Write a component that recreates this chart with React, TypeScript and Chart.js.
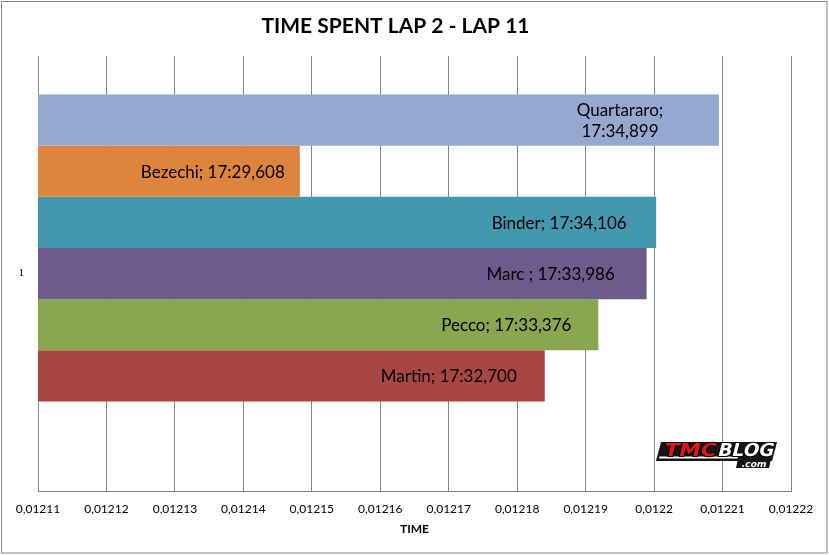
import React, { useEffect, useRef } from 'react';
import { Chart, registerables } from 'chart.js';

Chart.register(...registerables);

const TITLE = 'TIME SPENT LAP 2 - LAP 11';
const AXIS_TITLE = 'TIME';
const CATEGORIES = ['1'];
const RIDERS = ['Quartararo', 'Bezechi', 'Binder', 'Marc ', 'Pecco', 'Martin'];
const LAP_TIMES = ['17:34,899', '17:29,608', '17:34,106', '17:33,986', '17:33,376', '17:32,700'];
// time as fraction of a day (Excel time values)
const VALUES = [0.01220947917, 0.01214824074, 0.01220030093, 0.01219891204, 0.01219185185, 0.01218402778];
const X_MIN = 0.01211;
const X_MAX = 0.01222;
const X_STEP = 0.00001;

const COLORS = ['#95A9D0', '#DE843D', '#4397AE', '#6F5A8E', '#8AA64F', '#A84643'];
const LABEL_INSETS = [99, 87, 97, 96, 92, 96];
const GRID = '#868686';

const fmtTick = (v: number | string) => {
  const n = Number(v);
  let s = n.toFixed(5).replace(/0+$/, '').replace(/\.$/, '');
  return s.replace('.', ',');
};

const labelPlugin = {
  id: 'barLabels',
  afterDatasetsDraw(chart: any) {
    const ctx = chart.ctx;
    ctx.save();
    ctx.font = '17px Lato';
    ctx.fillStyle = '#000';
    ctx.textAlign = 'center';
    ctx.textBaseline = 'middle';
    RIDERS.forEach((r, i) => {
      const meta = chart.getDatasetMeta(i);
      const el = meta.data[0];
      if (!el) return;
      const full = `${r}; ${LAP_TIMES[i]}`;
      const lines = ctx.measureText(full).width > 160 ? [`${r};`, LAP_TIMES[i]] : [full];
      const cx = el.x - LABEL_INSETS[i];
      const lh = 21.6;
      lines.forEach((ln: string, k: number) => {
        ctx.fillText(ln, cx, el.y + 1 + (k - (lines.length - 1) / 2) * lh);
      });
    });
    ctx.restore();
  },
};

function fitText(ctx: CanvasRenderingContext2D, text: string, x: number, y: number, w: number, stroke: boolean) {
  const m = ctx.measureText(text).width;
  ctx.save();
  ctx.translate(x, y);
  ctx.scale(w / m, 1);
  if (stroke) ctx.strokeText(text, 0, 0);
  ctx.fillText(text, 0, 0);
  ctx.restore();
}

const decorPlugin = {
  id: 'decor',
  afterDraw(chart: any) {
    const ctx: CanvasRenderingContext2D = chart.ctx;
    ctx.save();
    // outer frame
    ctx.strokeStyle = GRID;
    ctx.lineWidth = 1;
    ctx.strokeRect(1.5, 1.5, 825.5, 551.5);

    // logo
    ctx.fillStyle = '#151515';
    ctx.beginPath();
    ctx.moveTo(661, 442);
    ctx.lineTo(777, 442);
    ctx.lineTo(772, 461);
    ctx.lineTo(656, 461);
    ctx.closePath();
    ctx.fill();
    ctx.beginPath();
    ctx.moveTo(738, 459);
    ctx.lineTo(771, 459);
    ctx.lineTo(769, 468);
    ctx.lineTo(736, 468);
    ctx.closePath();
    ctx.fill();
    ctx.fillStyle = '#fff';
    ctx.beginPath();
    ctx.moveTo(659.5, 456.5);
    ctx.lineTo(738, 456.5);
    ctx.lineTo(737.5, 458.5);
    ctx.lineTo(659, 458.5);
    ctx.closePath();
    ctx.fill();

    ctx.setTransform(1, 0, -0.25, 1, 0, 0);
    ctx.textBaseline = 'alphabetic';
    ctx.textAlign = 'left';
    ctx.lineWidth = 2;
    ctx.lineJoin = 'round';
    ctx.strokeStyle = '#000';
    ctx.font = 'bold 18px "DejaVu Sans"';
    const base = 456;
    const sk = 0.25 * base;
    ctx.fillStyle = '#E8141C';
    fitText(ctx, 'TMC', 663 + sk, base, 52, true);
    ctx.fillStyle = '#fff';
    fitText(ctx, 'BLOG', 717 + sk, base, 56, true);
    ctx.font = 'bold 9px "DejaVu Sans"';
    const b2 = 467;
    fitText(ctx, '.com', 741 + 0.25 * b2, b2, 25, false);
    ctx.restore();
  },
};

export default function App() {
  const ref = useRef<HTMLCanvasElement>(null);
  useEffect(() => {
    if (!ref.current) return;
    const datasets: any[] = RIDERS.map((r, i) => ({
      label: r,
      data: [VALUES[i]],
      backgroundColor: COLORS[i],
      borderWidth: 0,
      barPercentage: 1,
      categoryPercentage: 7 / 8.5,
    }));
    datasets.push({
      label: '',
      data: [null],
      backgroundColor: 'rgba(0,0,0,0)',
      borderWidth: 0,
      barPercentage: 1,
      categoryPercentage: 7 / 8.5,
    });
    const chart = new Chart(ref.current, {
      type: 'bar',
      data: { labels: CATEGORIES, datasets },
      options: {
        indexAxis: 'y',
        responsive: false,
        animation: false,
        layout: { padding: { left: 0, right: 38, top: 0, bottom: 0 } },
        plugins: {
          legend: { display: false },
          tooltip: { enabled: false },
          title: {
            display: true,
            text: TITLE,
            color: '#000',
            font: { family: 'Lato', size: 21, weight: 'bold' },
            padding: { top: 14, bottom: 17 },
          },
        },
        scales: {
          x: {
            type: 'linear',
            position: 'bottom',
            min: X_MIN,
            max: X_MAX,
            ticks: {
              stepSize: X_STEP,
              callback: (v: any) => fmtTick(v),
              color: '#000',
              font: { family: 'Lato', size: 12 },
              padding: 11,
              maxRotation: 0,
              autoSkip: false,
            },
            grid: { color: GRID, lineWidth: 1, drawTicks: false },
            border: { color: GRID },
            title: {
              display: true,
              text: AXIS_TITLE,
              color: '#000',
              font: { family: 'Lato', size: 12, weight: 'bold' },
              padding: { top: 0, bottom: 19 },
            },
            afterFit: (s: any) => {
              s.height = 64;
            },
          },
          y: {
            type: 'category',
            ticks: {
              color: '#000',
              font: { family: 'Liberation Serif', size: 11 },
              padding: 14,
            },
            grid: { display: false, drawTicks: false },
            border: { display: true, color: GRID },
            afterFit: (s: any) => {
              s.width = 38;
            },
          },
        },
      } as any,
      plugins: [labelPlugin, decorPlugin],
    });
    return () => chart.destroy();
  }, []);
  return (
    <div style={{ position: 'absolute', left: 0, top: 0, width: 829, height: 555, background: '#fff' }}>
      <canvas ref={ref} width={829} height={555} style={{ display: 'block' }} />
    </div>
  );
}
